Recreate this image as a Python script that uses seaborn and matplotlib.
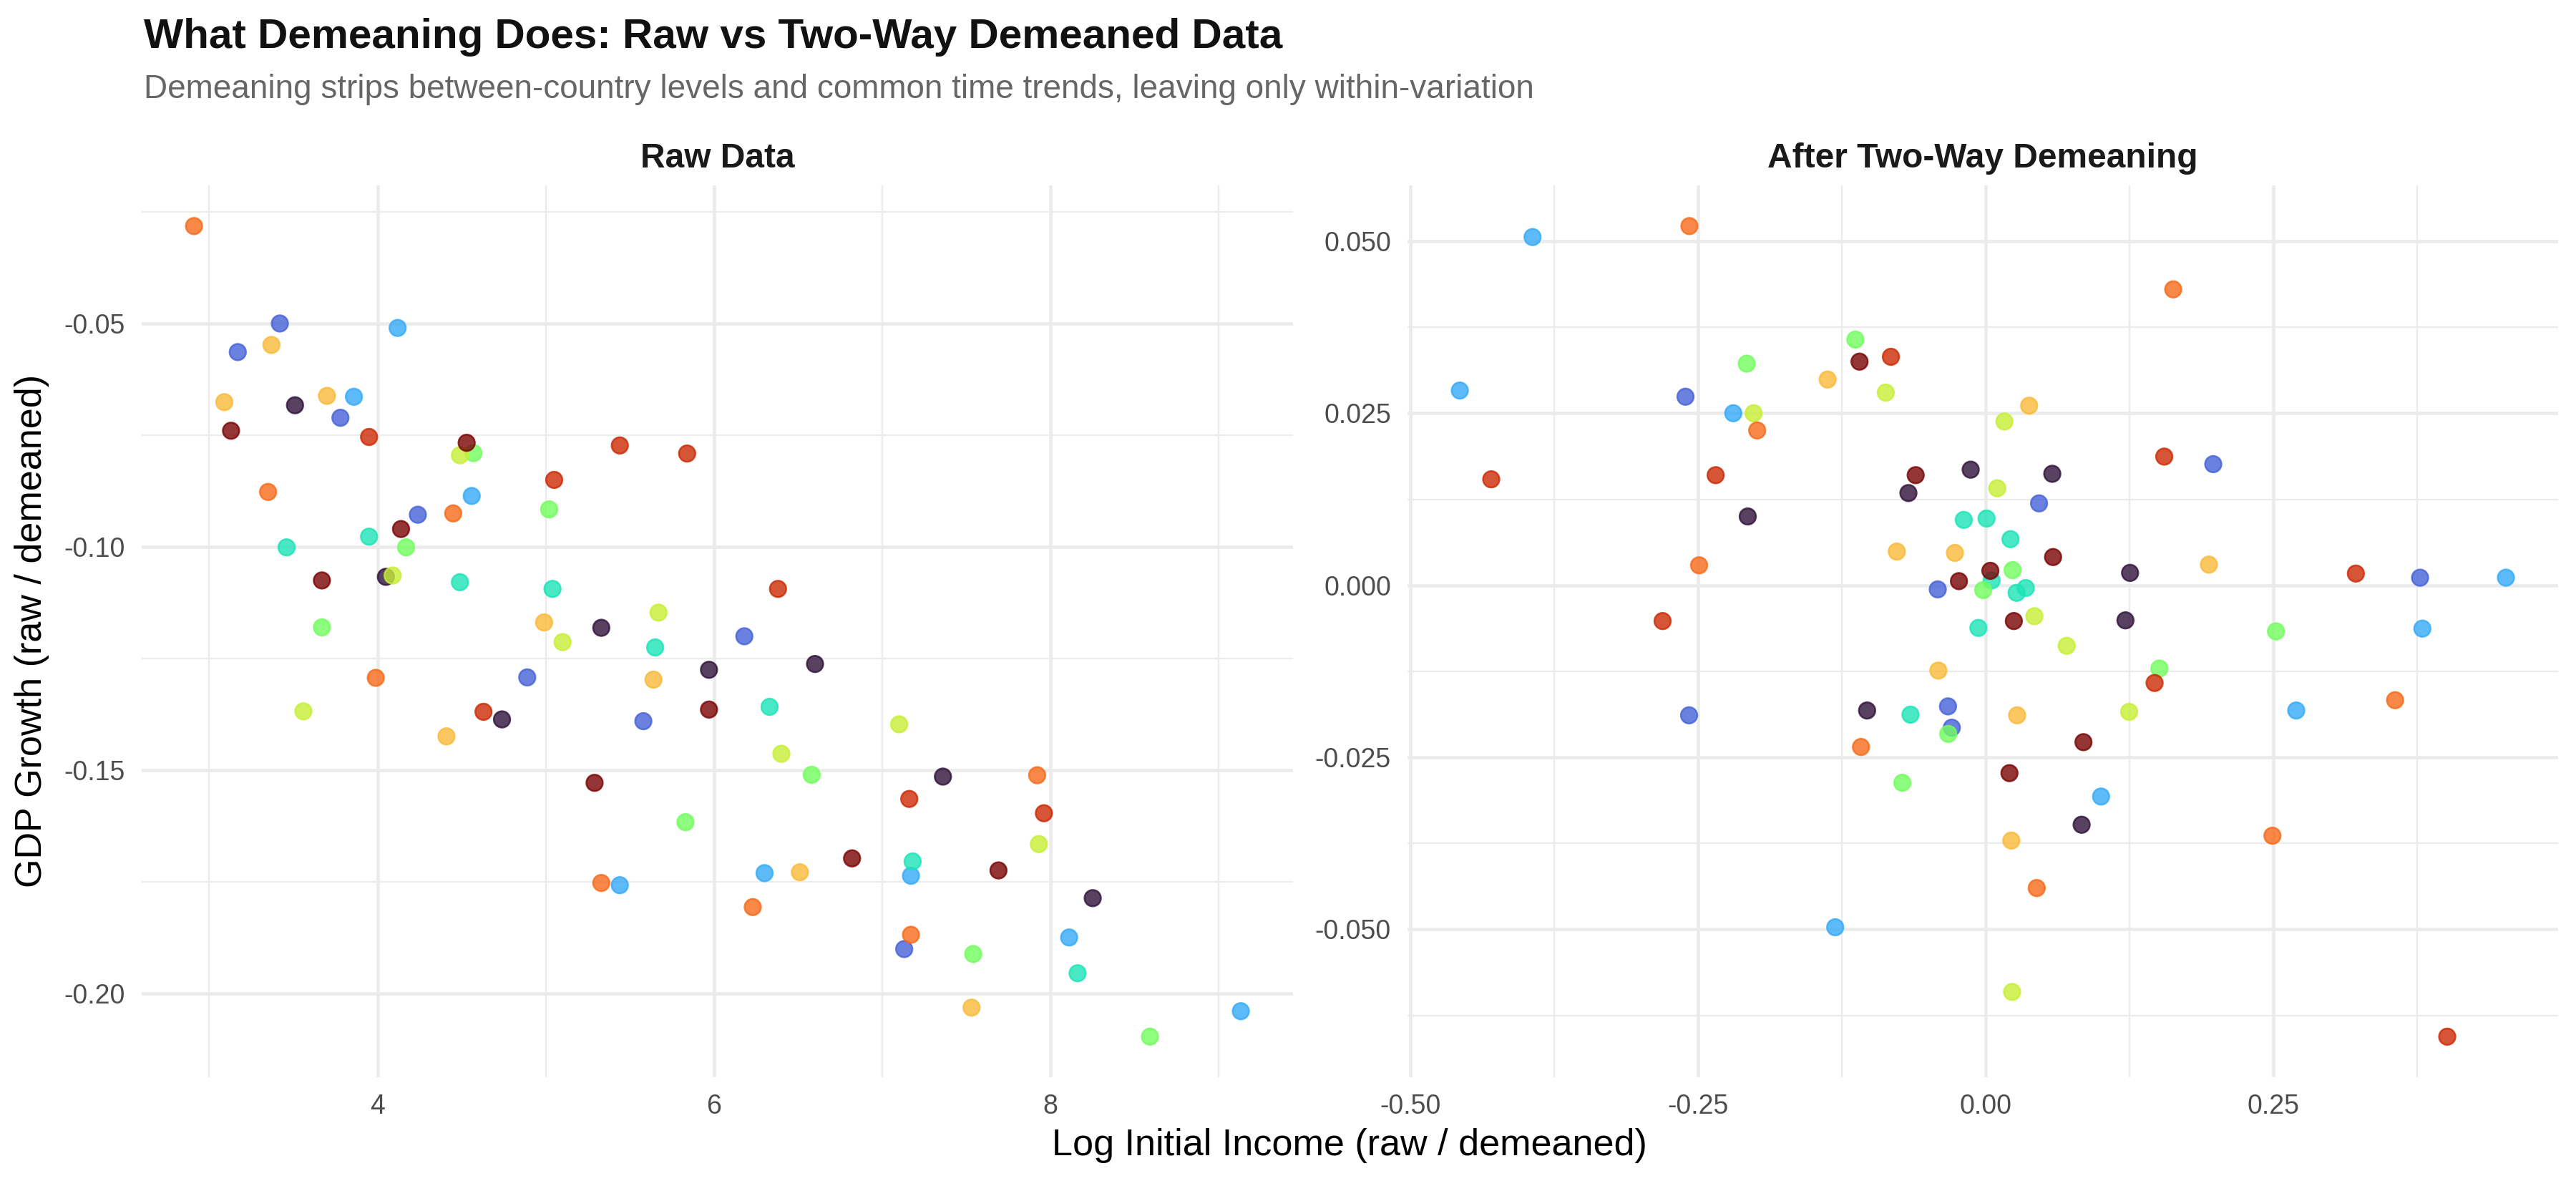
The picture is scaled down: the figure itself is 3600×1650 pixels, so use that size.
import pandas as pd
import matplotlib
matplotlib.use("Agg")
import matplotlib.pyplot as plt
from matplotlib.ticker import MultipleLocator, FuncFormatter
import seaborn as sns

# --- datos (10 paises x 8 periodos) ---
paises = ["C01", "C02", "C03", "C04", "C05", "C06", "C07", "C08", "C09", "C10"]

# Panel izquierdo: datos crudos
raw_income = [
    [3.51, 4.05, 5.33, 6.60, 5.97, 4.74, 7.36, 8.25],
    [3.42, 3.17, 3.78, 4.24, 6.18, 4.89, 5.58, 7.13],
    [4.12, 3.86, 4.56, 5.44, 6.30, 7.17, 8.11, 9.13],
    [3.95, 3.46, 4.49, 5.04, 5.65, 6.33, 7.18, 8.16],
    [4.57, 5.02, 4.17, 3.67, 5.83, 6.58, 7.54, 8.59],
    [4.49, 4.09, 5.67, 5.10, 3.56, 7.10, 6.40, 7.93],
    [3.37, 3.09, 3.70, 4.99, 5.64, 4.41, 6.51, 7.53],
    [2.91, 3.35, 4.45, 3.99, 5.33, 6.23, 7.17, 7.92],
    [3.95, 5.44, 5.84, 5.05, 6.38, 4.63, 7.16, 7.96],
    [3.13, 4.53, 4.14, 3.67, 5.97, 5.29, 6.82, 7.69],
]
raw_growth = [
    [-0.0683, -0.1067, -0.1181, -0.1262, -0.1275, -0.1386, -0.1514, -0.1786],
    [-0.0500, -0.0564, -0.0711, -0.0928, -0.1200, -0.1292, -0.1390, -0.1900],
    [-0.0510, -0.0664, -0.0886, -0.1757, -0.1730, -0.1736, -0.1874, -0.2039],
    [-0.0977, -0.1001, -0.1079, -0.1094, -0.1225, -0.1358, -0.1704, -0.1954],
    [-0.0790, -0.0916, -0.1001, -0.1180, -0.1616, -0.1510, -0.1911, -0.2096],
    [-0.0795, -0.1064, -0.1147, -0.1213, -0.1368, -0.1397, -0.1463, -0.1665],
    [-0.0548, -0.0676, -0.0662, -0.1169, -0.1297, -0.1424, -0.1728, -0.2031],
    [-0.0282, -0.0877, -0.0925, -0.1293, -0.1752, -0.1806, -0.1868, -0.1511],
    [-0.0754, -0.0773, -0.0791, -0.0850, -0.1094, -0.1369, -0.1564, -0.1596],
    [-0.0740, -0.0767, -0.0960, -0.1075, -0.1364, -0.1528, -0.1697, -0.1724],
]

# Panel derecho: despues del demeaning en dos direcciones
dm_income = [
    [-0.2068, -0.0131, -0.0672, 0.0578, 0.1254, 0.1214, -0.1031, 0.0833],
    [-0.2609, 0.0463, -0.0417, 0.1977, 0.3774, -0.2578, -0.0328, -0.0295],
    [-0.3938, -0.4570, -0.2194, 0.4520, 0.1002, -0.1308, 0.3794, 0.2698],
    [-0.0191, 0.0007, 0.0215, 0.0051, 0.0268, 0.0348, -0.0064, -0.0654],
    [-0.2077, -0.1133, 0.0233, -0.0022, 0.1509, -0.0326, -0.0725, 0.2522],
    [-0.2017, -0.0869, 0.0162, 0.0100, 0.0423, 0.0703, 0.1246, 0.0229],
    [-0.1374, 0.0377, -0.0773, -0.0268, 0.1939, -0.0412, 0.0273, 0.0222],
    [-0.2575, -0.1986, -0.2491, 0.1629, -0.1084, 0.0443, 0.3557, 0.2491],
    [-0.4297, -0.2347, -0.2808, -0.0824, 0.1551, 0.3216, 0.1467, 0.4010],
    [-0.1097, -0.0609, 0.0585, 0.0040, -0.0233, 0.0244, 0.0849, 0.0206],
]
dm_growth = [
    [0.0100, 0.0168, 0.0134, 0.0162, 0.0018, -0.0051, -0.0182, -0.0348],
    [0.0274, 0.0119, -0.0006, 0.0176, 0.0011, -0.0189, -0.0176, -0.0207],
    [0.0506, 0.0283, 0.0250, 0.0011, -0.0307, -0.0497, -0.0063, -0.0182],
    [0.0095, 0.0097, 0.0067, 0.0007, -0.0011, -0.0004, -0.0062, -0.0188],
    [0.0322, 0.0357, 0.0022, -0.0007, -0.0121, -0.0216, -0.0287, -0.0067],
    [0.0250, 0.0280, 0.0238, 0.0141, -0.0045, -0.0088, -0.0184, -0.0591],
    [0.0299, 0.0261, 0.0049, 0.0047, 0.0030, -0.0124, -0.0189, -0.0371],
    [0.0522, 0.0225, 0.0029, 0.0430, -0.0235, -0.0440, -0.0167, -0.0364],
    [0.0154, 0.0160, -0.0052, 0.0332, 0.0187, 0.0017, -0.0142, -0.0656],
    [0.0325, 0.0160, 0.0041, 0.0021, 0.0006, -0.0052, -0.0228, -0.0273],
]

# Paleta turbo (10 colores)
colores = ["#30123B", "#4662D7", "#36AAF9", "#1AE4B6", "#72FE5E",
           "#C7EF34", "#FABA39", "#F66B19", "#CB2A04", "#7A0403"]


def armar_df(xs, ys):
    filas = []
    for pais, fila_x, fila_y in zip(paises, xs, ys):
        for x, y in zip(fila_x, fila_y):
            filas.append({"pais": pais, "x": x, "y": y})
    return pd.DataFrame(filas)


df_raw = armar_df(raw_income, raw_growth)
df_dm = armar_df(dm_income, dm_growth)

sns.set_style("white")
plt.rcParams["font.family"] = ["Liberation Sans", "DejaVu Sans"]
plt.rcParams["axes.unicode_minus"] = False

fig = plt.figure(figsize=(12, 5.5), dpi=300)
ax1 = fig.add_axes([0.055, 0.0879, 0.447, 0.755])
ax2 = fig.add_axes([0.5464, 0.0879, 0.4467, 0.755])


def limites(serie):
    rango = serie.max() - serie.min()
    return serie.min() - 0.05 * rango, serie.max() + 0.05 * rango


def fmt(dec):
    def f(v, pos):
        if abs(v) < 1e-12:
            v = 0.0
        return f"{v:.{dec}f}"
    return FuncFormatter(f)


paneles = [
    (ax1, df_raw, "Raw Data", 2, 1, 0.05, 0.025, 0, 2),
    (ax2, df_dm, "After Two-Way Demeaning", 0.25, 0.125, 0.025, 0.0125, 2, 3),
]

for ax, df, titulo, xmaj, xmin, ymaj, ymin, xdec, ydec in paneles:
    sns.scatterplot(data=df, x="x", y="y", hue="pais", palette=colores,
                    s=30, alpha=0.8, linewidth=0.6, edgecolor="face",
                    legend=False, ax=ax, zorder=3)
    ax.set_xlim(*limites(df["x"]))
    ax.set_ylim(*limites(df["y"]))
    ax.xaxis.set_major_locator(MultipleLocator(xmaj))
    ax.xaxis.set_minor_locator(MultipleLocator(xmin))
    ax.yaxis.set_major_locator(MultipleLocator(ymaj))
    ax.yaxis.set_minor_locator(MultipleLocator(ymin))
    ax.xaxis.set_major_formatter(fmt(xdec))
    ax.yaxis.set_major_formatter(fmt(ydec))
    ax.grid(which="major", color="#EBEBEB", linewidth=1.1)
    ax.grid(which="minor", color="#EBEBEB", linewidth=0.55)
    ax.set_axisbelow(True)
    for sp in ax.spines.values():
        sp.set_visible(False)
    ax.tick_params(which="both", length=0, labelsize=9, labelcolor="#4D4D4D", pad=5.5)
    ax.set_xlabel("")
    ax.set_ylabel("")
    ax.set_title(titulo, fontsize=11.5, fontweight="bold", pad=6, color="#1A1A1A")

fig.text(0.0558, 0.9594, "What Demeaning Does: Raw vs Two-Way Demeaned Data",
         fontsize=14, fontweight="bold", color="#111111", ha="left", va="baseline")
fig.text(0.0558, 0.917,
         "Demeaning strips between-country levels and common time trends, leaving only within-variation",
         fontsize=11, color="#666666", ha="left", va="baseline")
fig.text(0.524, 0.022, "Log Initial Income (raw / demeaned)", fontsize=12.5,
         ha="center", va="baseline", color="black")
fig.text(0.0125, 0.4655, "GDP Growth (raw / demeaned)", fontsize=12.5,
         rotation=90, ha="center", va="center", color="black")

fig.savefig("out.png", dpi=300, facecolor="white")
